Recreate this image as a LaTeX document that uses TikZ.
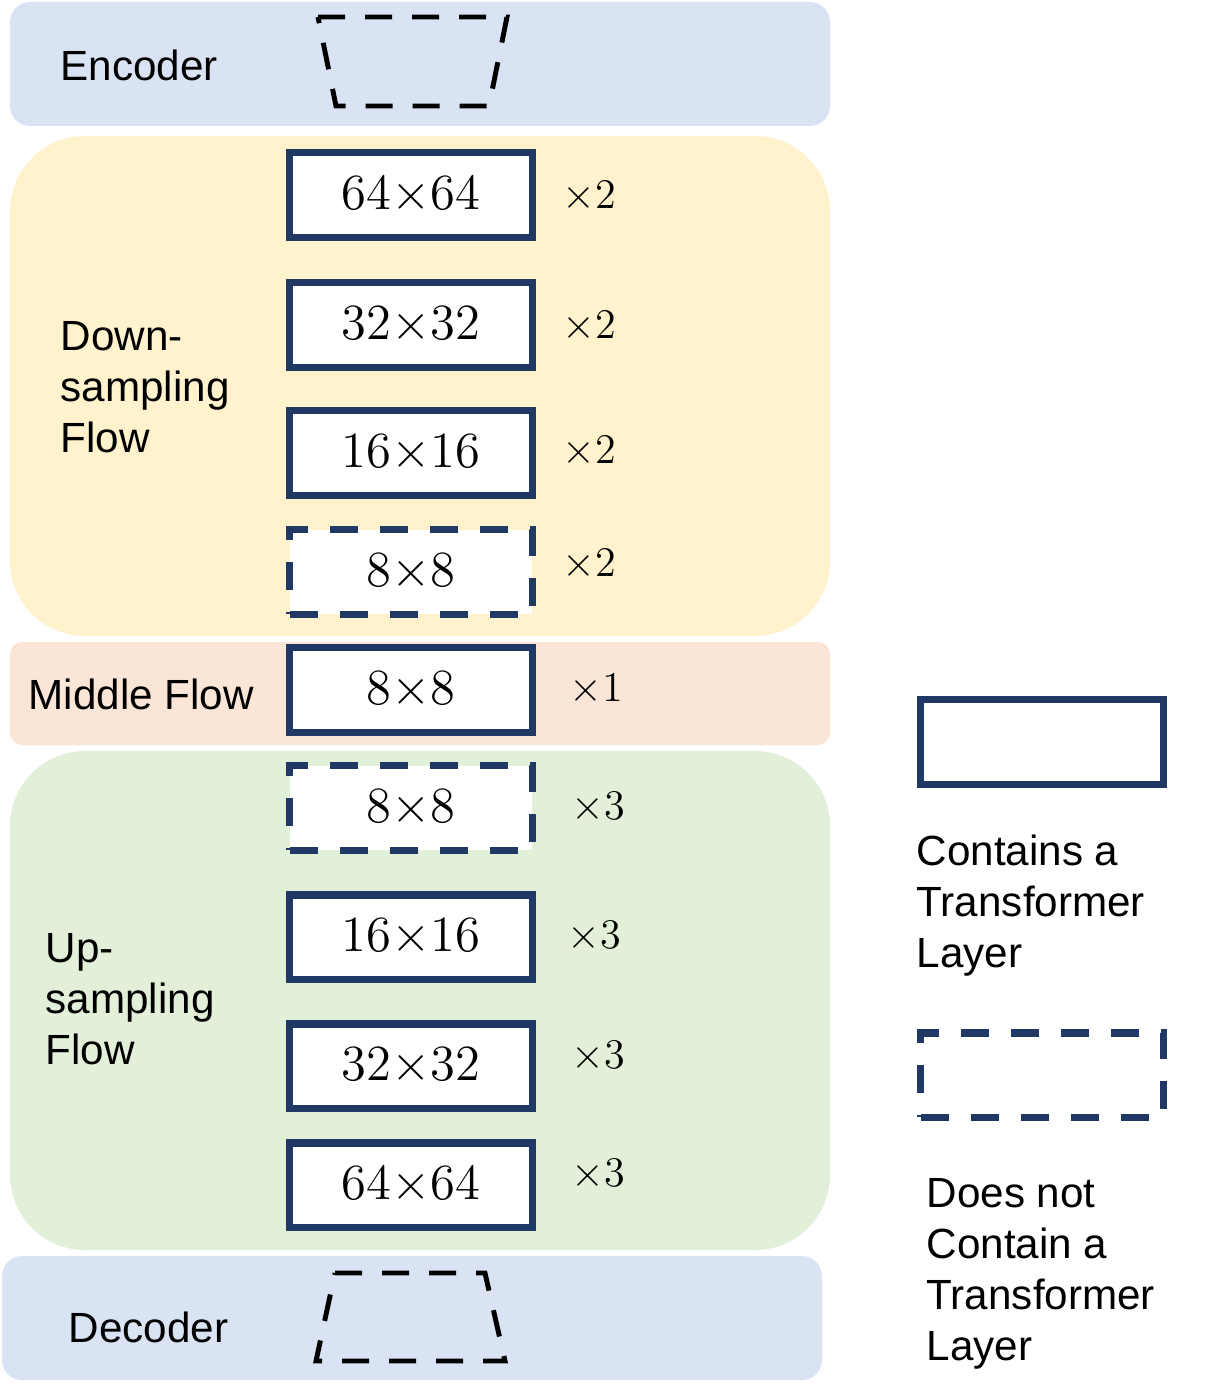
\documentclass[tikz,border=0pt]{standalone}
\usepackage[no-math]{fontspec}
\setmainfont{Liberation Sans}
\usepackage{amsmath}
\usepackage{tikz}
\usetikzlibrary{shapes}

\definecolor{encblue}{HTML}{DAE3F3}
\definecolor{downyel}{HTML}{FFF2CC}
\definecolor{midpink}{HTML}{FBE5D6}
\definecolor{upgreen}{HTML}{E2F0D9}
\definecolor{boxblue}{HTML}{203864}

\begin{document}
\begin{tikzpicture}[x=0.01cm,y=-0.01cm,
  blk/.style={rectangle,draw=boxblue,line width=2pt,fill=white,minimum width=2.42cm,minimum height=0.84cm,inner sep=0pt,font=\fontsize{13.5}{16}\selectfont},
  dblk/.style={blk,dash pattern=on 0.28cm off 0.22cm},
  lbl/.style={anchor=west,align=left,inner sep=0pt,font=\fontsize{12}{14.5}\selectfont},
  mul/.style={inner sep=0pt,font=\fontsize{13}{15}\selectfont},
  trap/.style={line width=1.4pt,dash pattern=on 0.27cm off 0.2cm}]
\useasboundingbox (0,0) rectangle (1212,1400);
% bands
\fill[encblue,rounded corners=0.2cm] (10,2) rectangle (830,126);
\fill[downyel,rounded corners=0.75cm] (10,136) rectangle (830,636);
\fill[midpink,rounded corners=0.12cm] (10,642) rectangle (830,745);
\fill[upgreen,rounded corners=0.75cm] (10,751) rectangle (830,1250);
\fill[encblue,rounded corners=0.2cm] (2,1256) rectangle (822,1380);
% encoder / decoder
\draw[trap] (318,17) -- (507,17) -- (489,106) -- (336,106) -- cycle;
\draw[trap] (335,1273) -- (485,1273) -- (505,1361) -- (316,1361) -- cycle;
\node at (60,65) [lbl] (nameE) {Encoder};
\node at (68,1327) [lbl] (nameD) {Decoder};
% down-sampling flow
\node at (60,387) [lbl] (nameDn) {Down-\\sampling\\Flow};
\node at (411,195) [blk] (dn1) {\raisebox{-0.04cm}{$64{\times}64$}\hspace{0.2cm}};
\node at (411,325) [blk] (dn2) {\raisebox{-0.04cm}{$32{\times}32$}\hspace{0.2cm}};
\node at (411,453) [blk] (dn3) {\raisebox{-0.04cm}{$16{\times}16$}\hspace{0.2cm}};
\node at (411,572) [dblk] (dn4) {\raisebox{-0.04cm}{$8{\times}8$}\hspace{0.2cm}};
\node at (589,197) [mul] (mdn1) {$\times 2$};
\node at (589,327) [mul] (mdn2) {$\times 2$};
\node at (589,452) [mul] (mdn3) {$\times 2$};
\node at (589,565) [mul] (mdn4) {$\times 2$};
% middle flow
\node at (28,694) [lbl] (nameM) {Middle Flow};
\node at (411,690) [blk] (mid1) {\raisebox{-0.04cm}{$8{\times}8$}\hspace{0.2cm}};
\node at (596,690) [mul] (mmid1) {$\times 1$};
% up-sampling flow
\node at (45,999) [lbl] (nameUp) {Up-\\sampling\\Flow};
\node at (411,808) [dblk] (up1) {\raisebox{-0.04cm}{$8{\times}8$}\hspace{0.2cm}};
\node at (411,937) [blk] (up2) {\raisebox{-0.04cm}{$16{\times}16$}\hspace{0.2cm}};
\node at (411,1066) [blk] (up3) {\raisebox{-0.04cm}{$32{\times}32$}\hspace{0.2cm}};
\node at (411,1185) [blk] (up4) {\raisebox{-0.04cm}{$64{\times}64$}\hspace{0.2cm}};
\node at (598,808) [mul] (mup1) {$\times 3$};
\node at (594,937) [mul] (mup2) {$\times 3$};
\node at (598,1057) [mul] (mup3) {$\times 3$};
\node at (598,1175) [mul] (mup4) {$\times 3$};
% legend
\node at (1042,742) [blk] (keyS) {};
\node at (916,906) [lbl] (nameS) {Contains a\\Transformer\\Layer};
\node at (1042,1075) [dblk] (keyD) {};
\node at (926,1274) [lbl] (nameDs) {Does not\\Contain a\\Transformer\\Layer};
\end{tikzpicture}
\end{document}
